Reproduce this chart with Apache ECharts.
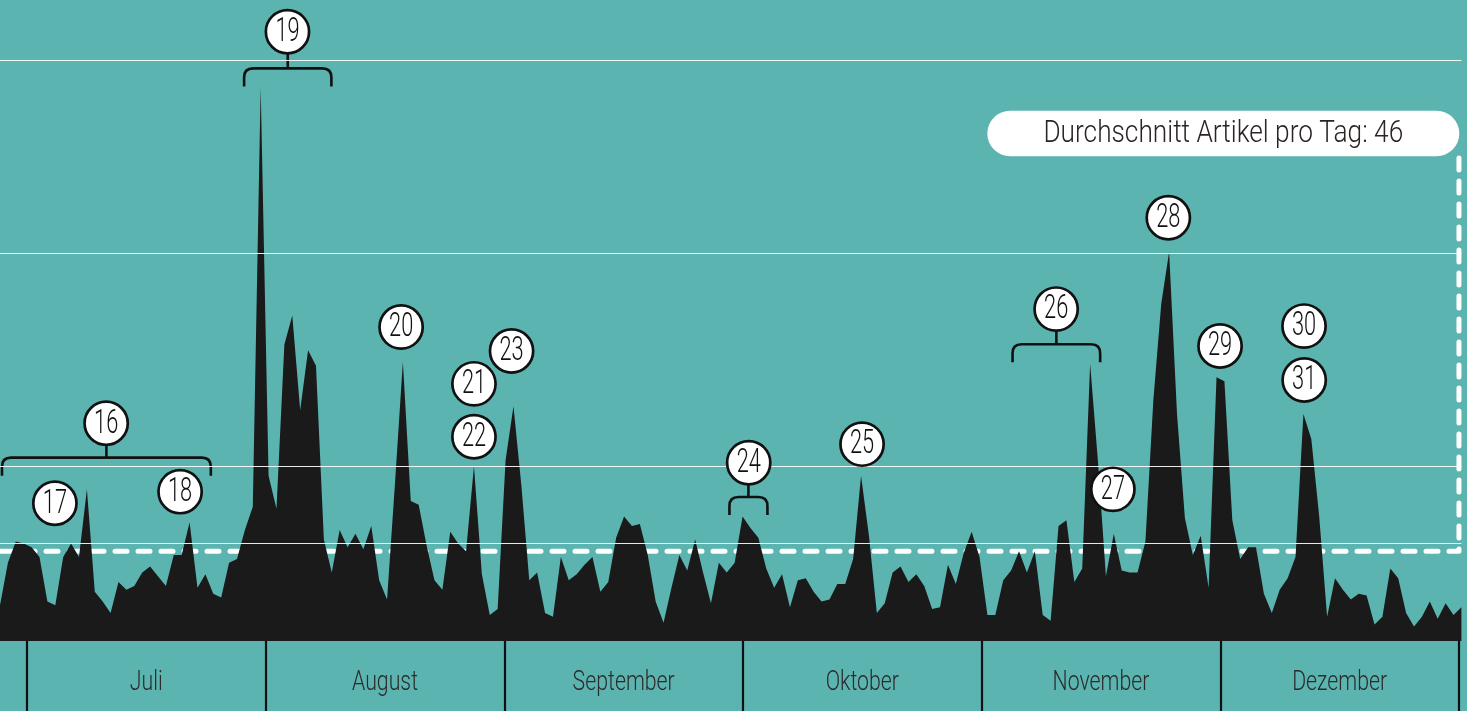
<!DOCTYPE html>
<html><head><meta charset="utf-8">
<script src="https://cdn.jsdelivr.net/npm/echarts@6/dist/echarts.min.js"></script>
<style>html,body{margin:0;padding:0;background:#5cb4b1;}#c{width:1467px;height:711px;}</style>
</head><body><div id="c"></div>
<script>
// ---- data ----
var dailyArticles = [18,40,51,50,48,43,20,18,43,50, 43,78,25,20,14,30,26,28,35,38,
 33,28,44,44,61,27,34,24,22,40, 42,57,69,286,85,68,153,168,119,150,
 142,52,35,57,48,55,47,59,31,21, 81,144,72,70,49,31,26,56,50,46,
 90,34,13,16,93,121,80,31,35,14, 12,43,31,34,39,43,25,30,53,64,
 59,60,44,20,9,27,44,36,52,35, 19,40,35,40,64,58,53,37,27,34,
 17,31,32,25,20,21,29,29,42,85, 54,14,19,35,38,30,34,28,16,17,
 39,29,45,56,43,13,13,31,36,46, 35,46,13,10,59,62,30,37,143,92,
 33,55,36,35,35,51,124,174,201,117, 63,44,54,27,136,134,62,42,48,48,
 24,14,26,32,43,117,104,64,12,32, 26,21,24,23,8,12,37,32,14,7,
 12,20,11,19,13,17];
var months = ['Juli','August','September','Oktober','November','Dezember'];
var averagePerDay = 46;
var averageLabel = 'Durchschnitt Artikel pro Tag: 46';
var gridValues = [50, 90, 200, 300];
var annoNumbers = [16,17,18,19,20,21,22,23,24,25,26,27,28,29,30,31];
var annoDay = [13.44,6.95,22.8,36.39,50.78,60.0,60.0,64.76,94.78,109.13,133.7,140.88,147.9,154.45,165.08,165.1];
var annoLevel = [112.2,70.8,76.8,314.9,162.0,132.6,105.2,149.6,91.8,101.4,171.3,78.0,218.6,152.2,162.5,134.6];
var bracketStart = [0.25,30.9,92.34,128.18];
var bracketEnd = [26.69,41.95,97.15,139.27];
var bracketLevel = [94.4,295.9,74.0,153.1];
var avgLineEnd = 184.69, avgLabelDay = 154.86, avgLabelLevel = 262.2, avgLineTop = 249.5;

// categories (days)
var days = [];
var d0 = new Date(2019, 5, 28);
for (var i = 0; i < dailyArticles.length; i++) {
  var d = new Date(d0.getTime() + i * 86400000);
  days.push((d.getMonth() + 1) + '-' + d.getDate());
}
var FONT = "Roboto,'DejaVu Sans Condensed',sans-serif";
var last = dailyArticles.length - 1;

function condensedText(x, y, text, size, sx, color) {
  return {type: 'text', x: x, y: y, scaleX: sx,
    style: {text: text, fontSize: size, fontFamily: FONT, fontWeight: 300, fill: color,
      align: 'center', verticalAlign: 'middle'}};
}

var chart = echarts.init(document.getElementById('c'), null, {renderer: 'canvas'});
var option = {
  animation: false,
  backgroundColor: '#5cb4b1',
  grid: [
    {left: -1, right: 5.6, top: 0, height: 641, containLabel: false},
    {left: 27, width: 1432, top: 641, height: 70, containLabel: false}
  ],
  xAxis: [
    {type: 'category', gridIndex: 0, data: days, boundaryGap: false, show: false},
    {type: 'value', gridIndex: 0, min: 0, max: last, show: false},
    {type: 'category', gridIndex: 1, data: months, boundaryGap: true,
     axisLine: {show: false}, axisTick: {show: false}, axisLabel: {show: false},
     splitLine: {show: true, interval: 0, lineStyle: {color: '#111', width: 2.2}}}
  ],
  yAxis: [
    {type: 'value', gridIndex: 0, min: -0.5, max: 331.3, show: false},
    {type: 'value', gridIndex: 1, show: false, min: 0, max: 1}
  ],
  series: [
    { // gridlines (behind area)
      type: 'line', xAxisIndex: 0, yAxisIndex: 0, z: 1, data: dailyArticles,
      showSymbol: false, lineStyle: {opacity: 0}, silent: true,
      markLine: {silent: true, symbol: 'none', label: {show: false},
        lineStyle: {color: '#ffffff', width: 1.2, type: 'solid', opacity: 0.9},
        data: gridValues.map(function (v) { return {yAxis: v}; })}
    },
    { // average dashed path
      type: 'line', xAxisIndex: 1, yAxisIndex: 0, z: 1, silent: true, showSymbol: false,
      data: [[0, averagePerDay], [avgLineEnd, averagePerDay], [avgLineEnd, avgLineTop]],
      lineStyle: {color: '#ffffff', width: 5, type: [12, 11], cap: 'round', join: 'round'}
    },
    { // area
      type: 'line', xAxisIndex: 0, yAxisIndex: 0, z: 3, data: dailyArticles,
      showSymbol: false, smooth: false, silent: true,
      lineStyle: {width: 0},
      areaStyle: {color: '#1a1a1a', opacity: 1, origin: 'start'}
    },
    { // brackets
      type: 'custom', xAxisIndex: 1, yAxisIndex: 0, z: 4, silent: true,
      data: bracketStart.map(function (s, i) { return [s, bracketEnd[i], bracketLevel[i]]; }),
      encode: {x: [0, 1], y: 2},
      renderItem: function (params, api) {
        var a = api.coord([api.value(0), api.value(2)]);
        var b = api.coord([api.value(1), api.value(2)]);
        var y = a[1], x1 = a[0], x2 = b[0], r = 9, dd = 18, xm = (x1 + x2) / 2;
        var p = 'M' + x1 + ' ' + (y + dd) + ' L' + x1 + ' ' + (y + r) + ' Q' + x1 + ' ' + y + ' ' + (x1 + r) + ' ' + y +
          ' L' + (x2 - r) + ' ' + y + ' Q' + x2 + ' ' + y + ' ' + x2 + ' ' + (y + r) + ' L' + x2 + ' ' + (y + dd) +
          ' M' + xm + ' ' + y + ' L' + xm + ' ' + (y - 22);
        return {type: 'path', shape: {pathData: p}, style: {fill: 'none', stroke: '#111', lineWidth: 2.6}};
      }
    },
    { // numbered circles
      type: 'custom', xAxisIndex: 1, yAxisIndex: 0, z: 5, silent: true,
      data: annoNumbers.map(function (n, i) { return [annoDay[i], annoLevel[i], n]; }),
      encode: {x: 0, y: 1},
      renderItem: function (params, api) {
        var p = api.coord([api.value(0), api.value(1)]);
        return {type: 'group', children: [
          {type: 'circle', shape: {cx: p[0], cy: p[1], r: 21.6}, style: {fill: '#ffffff', stroke: '#111', lineWidth: 2.7}},
          condensedText(p[0], p[1] + 1, String(api.value(2)), 33, 0.66, '#111')
        ]};
      }
    },
    { // average label box
      type: 'custom', xAxisIndex: 1, yAxisIndex: 0, z: 5, silent: true,
      data: [[avgLabelDay, avgLabelLevel]],
      encode: {x: 0, y: 1},
      renderItem: function (params, api) {
        var p = api.coord([api.value(0), api.value(1)]);
        return {type: 'group', children: [
          {type: 'rect', shape: {x: p[0] - 236, y: p[1] - 22.7, width: 472, height: 45.4, r: 22.7}, style: {fill: '#ffffff'}},
          condensedText(p[0], p[1] + 1, averageLabel, 32, 0.82, '#2a2523')
        ]};
      }
    },
    { // month labels
      type: 'custom', xAxisIndex: 2, yAxisIndex: 1, silent: true,
      data: months.map(function (m, i) { return [i, 0.40]; }),
      encode: {x: 0, y: 1},
      renderItem: function (params, api) {
        var p = api.coord([api.value(0), api.value(1)]);
        return condensedText(p[0], p[1], months[params.dataIndex], 28, 0.76, '#2b2b2b');
      }
    }
  ]
};
chart.setOption(option);
</script>
</body></html>
